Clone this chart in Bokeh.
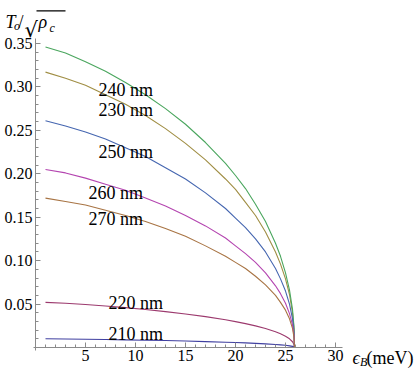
from bokeh.plotting import figure
from bokeh.models import Label, FixedTicker, PrintfTickFormatter, Range1d, BoxAnnotation
from bokeh.embed import file_html
from bokeh.resources import INLINE

# ---- data ----
eB = [1, 3, 5, 7, 9, 11, 13, 15, 17, 19, 20, 21, 22, 23, 24, 24.5, 25, 25.4, 25.7, 25.85, 25.9]

T_210 = [0.0100, 0.0098, 0.0095, 0.0092, 0.0088, 0.0084, 0.0080, 0.0074, 0.0068, 0.0061, 0.0057,
         0.0053, 0.0048, 0.0042, 0.0035, 0.0030, 0.0025, 0.0019, 0.0013, 0.0007, 0.0]
T_220 = [0.0520, 0.0509, 0.0495, 0.0478, 0.0459, 0.0438, 0.0413, 0.0386, 0.0355, 0.0319, 0.0298,
         0.0275, 0.0249, 0.0218, 0.0181, 0.0158, 0.0130, 0.0100, 0.0066, 0.0035, 0.0]
T_230 = [0.317, 0.310, 0.302, 0.291, 0.280, 0.267, 0.252, 0.235, 0.216, 0.194, 0.182,
         0.167, 0.152, 0.133, 0.110, 0.096, 0.079, 0.061, 0.040, 0.0216, 0.0]
T_240 = [0.346, 0.339, 0.329, 0.318, 0.305, 0.291, 0.275, 0.257, 0.236, 0.212, 0.198,
         0.183, 0.165, 0.145, 0.120, 0.105, 0.086, 0.066, 0.044, 0.0235, 0.0]
T_250 = [0.261, 0.255, 0.248, 0.240, 0.230, 0.220, 0.207, 0.194, 0.178, 0.160, 0.149,
         0.138, 0.125, 0.110, 0.091, 0.079, 0.065, 0.050, 0.033, 0.0177, 0.0]
T_260 = [0.205, 0.201, 0.195, 0.188, 0.181, 0.172, 0.163, 0.152, 0.140, 0.126, 0.117,
         0.108, 0.098, 0.086, 0.071, 0.062, 0.051, 0.039, 0.026, 0.0139, 0.0]
T_270 = [0.172, 0.168, 0.164, 0.158, 0.152, 0.145, 0.137, 0.128, 0.117, 0.105, 0.098,
         0.091, 0.082, 0.072, 0.060, 0.052, 0.043, 0.033, 0.022, 0.0117, 0.0]

series_names = ["210 nm", "220 nm", "230 nm", "240 nm", "250 nm", "260 nm", "270 nm"]
series_values = [T_210, T_220, T_230, T_240, T_250, T_260, T_270]

x_ticks = [5, 10, 15, 20, 25, 30]
y_ticks = [0.05, 0.10, 0.15, 0.20, 0.25, 0.30, 0.35]

# ---- styles ----
colors = ["#3f3fa0", "#9c3a6e", "#a08e44", "#4aa65e", "#4566b0", "#b445b0", "#a87444"]
label_pos = {"210 nm": (7.3, 0.0150), "220 nm": (7.3, 0.0507), "230 nm": (6.3, 0.273),
             "240 nm": (6.3, 0.297), "250 nm": (6.3, 0.2245), "260 nm": (5.3, 0.1773),
             "270 nm": (5.3, 0.1485)}
FONT = "Liberation Serif"
AXC = "#8a8a8a"

p = figure(width=415, height=369, output_backend="svg", toolbar_location=None,
           x_range=Range1d(-3.5, 38.0), y_range=Range1d(-0.02533, 0.39949),
           min_border_left=0, min_border_right=0, min_border_top=0, min_border_bottom=0)
p.grid.visible = False
p.outline_line_color = None
p.background_fill_color = "white"
p.border_fill_color = "white"

for name, vals, c in zip(series_names, series_values, colors):
    p.line(eB, vals, line_color=c, line_width=1.1)
    lx, ly = label_pos[name]
    p.add_layout(Label(x=lx, y=ly, text=name, text_font=FONT, text_font_size="18px",
                       text_color="black", text_align="left", text_baseline="middle"))

for ax in (p.xaxis[0], p.yaxis[0]):
    ax.fixed_location = 0
    ax.axis_line_color = AXC
    ax.major_tick_line_color = AXC
    ax.minor_tick_line_color = AXC
    ax.major_tick_in = 5
    ax.major_tick_out = 0
    ax.minor_tick_in = 3
    ax.minor_tick_out = 0
    ax.major_label_text_font = FONT
    ax.major_label_text_font_size = "16px"
    ax.major_label_text_color = "black"
    ax.major_label_standoff = 3

p.xaxis.bounds = (-0.2, 30.7)
p.yaxis.bounds = (-0.004, 0.356)
p.xaxis.ticker = FixedTicker(ticks=x_ticks, minor_ticks=[i for i in range(1, 31) if i % 5])
p.yaxis.ticker = FixedTicker(ticks=y_ticks, minor_ticks=[round(0.01 * i, 2) for i in range(1, 36) if i % 5])
p.yaxis.formatter = PrintfTickFormatter(format="%.2f")

def lab(x, y, t, size, italic=True, font=FONT):
    p.add_layout(Label(x=x, y=y, text=t, text_font=font, text_font_size=size,
                       text_font_style="italic" if italic else "normal", text_color="black",
                       text_align="left", text_baseline="alphabetic"))

# y-axis label  T_o / sqrt(rho_c)
lab(-3.00, 0.3742, "T", "18px")
lab(-2.15, 0.3696, "o", "12px")
lab(-1.70, 0.3742, "/", "18px", italic=False)
lab(-1.10, 0.3661, "\u221a", "21px", italic=False, font="DejaVu Serif")
p.add_layout(BoxAnnotation(left=0.1, right=3.0, bottom=0.3868, top=0.3882,
                           fill_color="black", fill_alpha=1.0, line_color=None))
lab(0.30, 0.3742, "\u03c1", "18px")
lab(1.40, 0.3684, "c", "12px")

# x-axis label  eps_B (meV)
lab(31.70, -0.01266, "\u03f5", "18px")
lab(32.45, -0.01727, "B", "12px")
lab(33.10, -0.01266, "(meV)", "18px", italic=False)

open("out.html", "w").write(file_html(p, INLINE))
